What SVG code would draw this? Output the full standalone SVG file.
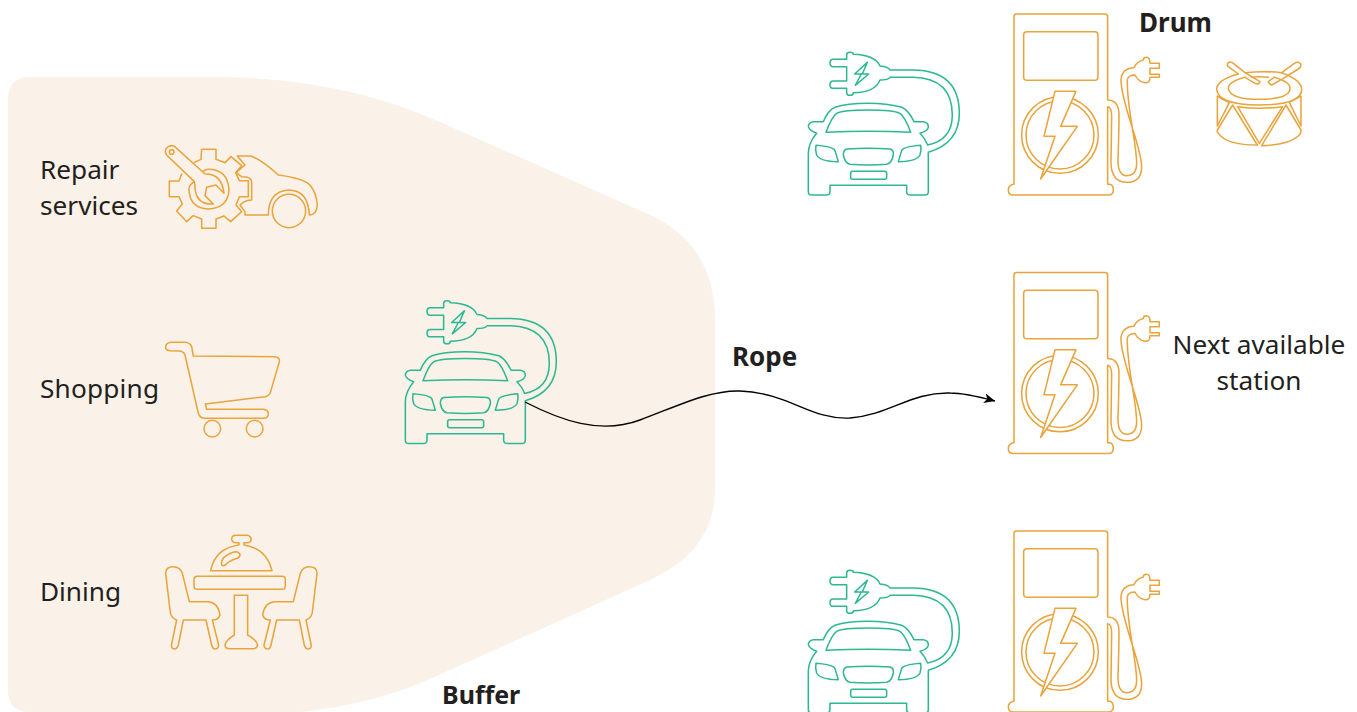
<svg xmlns="http://www.w3.org/2000/svg" width="1357" height="712" viewBox="0 0 1357 712">
<style>
.o{fill:none;stroke:#E9A43C;stroke-width:4.6;stroke-linejoin:round;stroke-linecap:round}
.g{fill:none;stroke:#2DB893;stroke-width:4.6;stroke-linejoin:round;stroke-linecap:round}
.w{fill:#fff}
text{font-family:"Noto Sans","Open Sans","Liberation Sans",sans-serif;font-size:26.2px;fill:#231F20}
.b{font-weight:700;font-size:26px}
.m{text-anchor:middle}
</style>
<defs>
<marker id="arrow" markerUnits="userSpaceOnUse" markerWidth="14" markerHeight="12" refX="11" refY="5" orient="auto">
<path d="M0,0 L11,5 L0,10 L3,5 Z" fill="#000"/>
</marker>
<g id="evcar" class="g">
<path d="M120,556 L350,556 L350,575 Q350,585 362,585 L405,585 Q415,585 415,575 L415,457 Q508,430 508,340 Q508,212 370,210 L300,210 Q295,200 270,198 Q255,165 190,163 Q190,157 180,157 Q170,157 170,165 L170,178 L130,178 Q120,178 120,189 Q120,200 130,200 L170,200 L170,243 L130,243 Q120,243 120,254 Q120,265 130,265 L170,265 L170,278 Q170,286 180,286 Q190,286 190,278 Q255,278 270,240 Q295,240 300,232 L370,232 Q487,235 487,345 Q487,420 413,435 Q405,415 390,400 Q415,392 415,380 Q415,367 400,365 L372,365 Q355,330 335,322 Q290,310 235,310 Q170,310 135,322 Q115,330 100,365 L70,365 Q55,368 55,380 Q58,392 80,400 Q55,430 55,460 L55,575 Q55,585 65,585 L108,585 Q120,585 120,575 Z"/>
<path d="M108,397 Q235,390 362,397 Q345,350 330,340 Q310,330 235,330 Q160,330 140,340 Q125,350 108,397 Z"/>
<path d="M78,436 Q130,440 135,452 L145,485 Q90,485 80,465 Q75,450 78,436 Z"/>
<path d="M392,436 Q340,440 335,452 L325,485 Q380,485 390,465 Q395,450 392,436 Z"/>
<path d="M170,447 Q235,442 300,447 Q312,450 310,465 Q305,490 290,493 Q235,497 180,493 Q165,490 160,465 Q160,450 170,447 Z"/>
<rect x="182" y="514" width="108" height="24" rx="6"/>
<path d="M232,187 L194,222 L214,222 L196,256 L236,222 L217,222 Z"/>
</g>
<g id="pumpshape" class="o">
<path d="M672,552 L672,50 Q672,42 680,42 L945,42 Q953,42 953,50 L953,300 Q985,300 987,340 Q987,400 984,480 Q984,527 1010,527 Q1040,527 1040,490 C1040,430 1010,320 1012,240 Q1014,225 1035,225 Q1045,245 1065,248 Q1080,250 1080,232 L1108,232 L1108,223 L1080,223 L1080,205 L1108,205 L1108,190 L1080,190 Q1080,172 1070,172 Q1060,172 1060,180 Q1040,185 1032,203 Q995,205 993,240 C993,310 1055,440 1055,500 Q1055,547 1010,547 Q965,547 963,490 L965,350 Q965,320 953,320 L953,553 L960,553 Q970,556 970,570 Q970,585 955,585 L670,585 Q655,585 655,570 Q655,556 672,552 Z"/>
<rect x="701" y="95" width="223" height="146" rx="10"/>
<circle cx="810" cy="405" r="115"/>
<circle cx="810" cy="405" r="102"/>
<path class="w" d="M795,274 L858,274 L812,379 L862,379 L752,537 L795,409 L762,409 Z"/>
</g>
</defs>

<g id="buffer">
<path d="M8,100 Q8,77 30,77 L215,77 Q340,77 440,122 L650,215 Q715,245 715,320 L715,490 Q715,550 650,580 L430,679 Q370,705 300,712 L30,712 Q8,712 8,690 Z" fill="#FAF1E8"/>
<text class="b" x="442" y="704" style="font-size:25px">Buffer</text>
</g>

<g id="repair">
<text x="40" y="178.6">Repair</text>
<text x="40" y="214.6">services</text>
<g class="o" transform="translate(150 130) scale(.3333)">
<path d="M95,132 L87,153 L58,153 L58,200 L87,200 L97,222 L80,243 L110,275 L130,257 L155,267 L155,295 L198,295 L198,267 L222,258 L242,275 L275,245 L258,225 L268,200 L295,200 L295,152 L268,152 L257,128 L275,107 L243,80 L225,98 L198,88 L198,58 L155,58 L153,88 L133,97"/>
<path d="M133,155 L50,75 Q40,60 55,50 Q70,42 80,55 L165,132 Q215,130 222,190 L198,165 L170,172 L165,197 L190,222 Q140,225 135,175 Q135,165 133,155 Q115,165 117,180 Q120,235 175,237 Q235,235 237,178 Q232,118 175,118 Q168,118 158,125"/>
<circle cx="65" cy="66" r="7"/>
<path d="M262,78 L300,78 Q330,85 385,135 Q460,145 480,165 Q500,190 502,225 Q500,255 478,255 Q475,180 415,180 Q355,185 355,255 L285,255 L285,245 L270,225 Q285,210 305,210 L305,155 Q305,140 275,140 L258,128 L285,105 Z"/>
<circle cx="417" cy="243" r="50"/>
</g>
</g>

<g id="shopping">
<text x="40" y="397.6" textLength="119">Shopping</text>
<g class="o" transform="translate(150 330) scale(.3333)">
<path d="M60,62 Q45,60 47,50 Q48,38 65,37 L105,37 Q120,38 125,50 L130,78 L375,80 Q390,82 388,95 L362,185 Q358,198 345,200 L166,222 L170,238 L340,238 Q355,240 355,252 Q355,265 340,265 L165,265 Q150,265 145,250 L105,75 Q100,62 85,63 Z"/>
<circle cx="187" cy="296" r="25"/>
<circle cx="314" cy="296" r="25"/>
</g>
</g>

<g id="dining">
<text x="40" y="600.6">Dining</text>
<g class="o" transform="translate(150 520) scale(.3333)">
<path d="M182,152 L366,152 Q350,85 282,75 L282,68 L295,68 Q305,66 303,55 Q300,46 290,46 L255,46 Q245,48 245,58 Q247,68 258,68 L267,68 L267,75 Q195,85 182,152 Z"/>
<path d="M215,135 Q212,125 222,112 Q240,97 258,95 Q270,97 270,105 Q268,115 255,117 Q235,125 228,133 Q220,140 215,135 Z"/>
<rect x="132" y="169" width="274" height="39" rx="10"/>
<path d="M253,226 L293,226 L293,345 Q320,360 323,375 Q320,386 310,386 L237,386 Q225,385 225,375 Q228,360 253,345 Z"/>
<path id="chair" d="M47,160 Q47,140 70,140 Q90,140 97,160 L118,245 L175,245 Q205,248 210,285 Q205,300 187,300 L206,375 Q205,387 195,387 Q188,387 185,375 L168,300 L100,300 L85,375 Q82,387 72,387 Q62,385 65,372 L80,300 Q62,295 60,270 Z"/>
<use href="#chair" transform="translate(548 0) scale(-1 1)"/>
</g>
</g>

<g id="waiting-car">
<use href="#evcar" transform="translate(387 248.5) scale(.3333)"/>
</g>

<g id="drum-car">
<use href="#evcar" transform="translate(790 0) scale(.3333)"/>
</g>
<g id="drum-station">
<use href="#pumpshape" transform="translate(790 0) scale(.3333)"/>
<text class="b" x="1139" y="32">Drum</text>
</g>
<g id="drum">
<g class="o" transform="translate(1200 50) scale(.3333)">
<path d="M115,72 Q50,90 50,118 Q55,165 178,165 Q305,165 305,118 Q305,90 245,68 Q190,62 135,68"/>
<path d="M135,82 Q85,95 85,115 Q90,148 178,148 Q270,148 270,115 Q270,95 222,82 M155,82 Q180,78 205,82"/>
<path d="M115,72 L88,52 Q78,45 85,38 Q92,33 100,40 L135,68 L180,95 Q178,105 165,100 L135,82"/>
<path d="M245,68 L283,40 Q295,33 302,42 Q305,50 295,57 L245,88 L215,105 Q205,100 205,95 L222,82"/>
<path d="M52,138 Q70,150 88,158 L52,228 Z"/>
<path d="M98,165 L172,285 Q80,285 55,250 Q50,245 52,240 Z"/>
<path d="M113,170 Q178,180 248,170 L178,280 Z"/>
<path d="M258,165 L303,240 Q305,250 295,258 Q265,285 185,287 Z"/>
<path d="M268,157 L303,138 L303,228 Z"/>
</g>
</g>

<g id="next-station">
<use href="#pumpshape" transform="translate(790 258.5) scale(.3333)"/>
<text class="m" x="1259" y="353.6">Next available</text>
<text class="m" x="1259" y="389.6">station</text>
</g>

<g id="bottom-car">
<use href="#evcar" transform="translate(790 518) scale(.3333)"/>
</g>
<g id="bottom-station">
<use href="#pumpshape" transform="translate(790 517) scale(.3333)"/>
</g>

<g id="connectors">
<path d="M525,402 C560,420 600,435 640,420 C680,405 710,390 740,391 C790,393 810,420 850,418 C890,415 910,392 950,393 C965,393 980,397 995,401" fill="none" stroke="#000" stroke-width="1.4" marker-end="url(#arrow)"/>
<text class="b" x="732" y="366">Rope</text>
</g>
</svg>
